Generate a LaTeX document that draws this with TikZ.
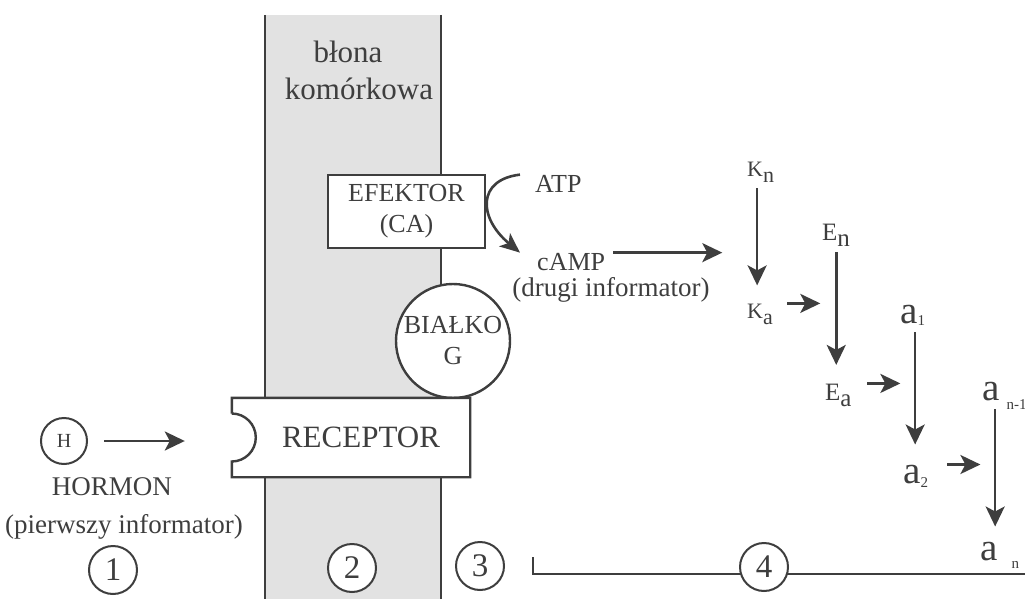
\documentclass[tikz,border=0pt]{standalone}
\usepackage{fontspec}
\setmainfont{Liberation Serif}
\usetikzlibrary{arrows.meta}

\definecolor{ink}{RGB}{62,62,62}
\definecolor{membrane}{RGB}{226,226,226}

\newcommand{\fsz}[1]{\fontsize{#1}{#1}\selectfont}
% lowered index for K and E
\newcommand{\ksub}[1]{\rlap{\raisebox{-6pt}{#1}}}
% lowered index for a: shift, drop, text
\newcommand{\asub}[3]{\rlap{\hspace{#1}\raisebox{-#2}{\fontsize{15}{15}\selectfont #3}}}

\tikzset{
  txt/.style={inner sep=0pt, text=ink},
  outl/.style={draw=ink, line width=2.4pt},
  wall/.style={draw=ink, line width=1.8pt},
  arr/.style={draw=ink, line width=2.6pt, -{Stealth[length=20pt,width=19pt,inset=5pt]}},
  cellbox/.style={draw=ink, line width=2.4pt, fill=white, text=ink, align=center, font=\fontsize{26}{31}\selectfont},
  numc/.style={circle, draw=ink, line width=2pt, fill=white, minimum size=48pt, inner sep=0pt, text=ink, font=\fsz{33}},
  casc/.style={txt, anchor=base west, font=\fsz{22}},
  acasc/.style={txt, anchor=base west, font=\fsz{39}},
}

\begin{document}
\begin{tikzpicture}[x=1pt,y=-1pt]
  \useasboundingbox (0,0) rectangle (1025,599);

  % cell membrane
  \fill[membrane] (265,15) rectangle (441,599);
  \draw[wall] (265,15) -- (265,599) (441,15) -- (441,599);
  \node[txt, font=\fsz{31}, anchor=base] (blona) at (348,63) {błona};
  \node[txt, font=\fsz{31}, anchor=base] (komorkowa) at (359,100) {komórkowa};

  % effector, G protein and receptor
  \node[cellbox, minimum width=157pt, minimum height=73pt] (efektor) at (406.5,211.5) {EFEKTOR\\(CA)};
  \node[cellbox, circle, minimum size=114pt, inner sep=0pt] (bialko) at (453,341) {BIAŁKO\\G};
  \node[txt, fill=white, minimum width=238pt, minimum height=79pt, font=\fsz{31}] (rec) at (351,437.5) {\hspace*{20pt}RECEPTOR};
  \draw[outl, line join=miter]
    ([yshift=24pt]rec.west) -- (rec.north west) -- (rec.north east)
    -- (rec.south east) -- (rec.south west) -- ([yshift=-24pt]rec.west)
    arc[start angle=-90, end angle=90, radius=24pt];

  % hormone
  \node[numc, minimum size=46pt, font=\fsz{20}] (h) at (64,441) {H};
  \node[txt, font=\fsz{27}, anchor=base] (hormon) at (112,495) {HORMON};
  \node[txt, font=\fsz{27}, anchor=base] (pierwszy) at (124,533) {(pierwszy informator)};
  \draw[arr, shorten <=16pt, shorten >=47pt] (h.east) -- (h.east -| rec.west);

  % second messenger
  \node[txt, font=\fsz{26}, anchor=base west] (atp) at (535,192) {ATP};
  \node[txt, font=\fsz{26}, anchor=base west] (camp) at (537,270) {cAMP};
  \node[txt, font=\fsz{27}, anchor=base] (drugi) at (611,296) {(drugi informator)};
  \draw[arr, -{Stealth[length=20pt,width=17pt,inset=5pt]}]
    ([xshift=-15pt]atp.north west) .. controls +(-43,5) and +(-42,-35) .. ([xshift=-17pt]camp.north west);
  \draw[arr] ([xshift=8pt]camp.north east) -- ++(109,0);

  % kinase cascade
  \node[casc] (kn) at (747,176) {K\ksub{n}};
  \node[casc] (ka) at (747,318) {K\ksub{a}};
  \node[casc, font=\fsz{25}] (en) at (822,240) {E\ksub{n}};
  \node[casc, font=\fsz{25}] (ea) at (825,400) {E\ksub{a}};
  \node[acasc] (a1) at (900,323) {a\asub{0pt}{2pt}{1}};
  \node[acasc] (a2) at (903,483) {a\asub{0pt}{4pt}{2}};
  \node[acasc] (anm) at (982,400) {a\asub{7pt}{9pt}{n-1}};
  \node[acasc] (an) at (980,560) {a\asub{14pt}{8pt}{n}};

  \draw[arr, shorten <=6pt, shorten >=18pt] ([xshift=2pt]kn.south) -- ([xshift=2pt]ka.north);
  \draw[arr, shorten <=6pt, shorten >=18.5pt] ([xshift=6.4pt]en.south) -- ([xshift=3.4pt]ea.north);
  \draw[arr, shorten <=7pt, shorten >=20pt] ([xshift=6.3pt]a1.south) -- ([xshift=3.3pt]a2.north);
  \draw[arr, shorten >=15pt] ([xshift=4.3pt]anm.south) -- ([xshift=6.3pt]an.north);

  \draw[arr] ([xshift=24pt]ka.north east) -- ++(33,0);
  \draw[arr] ([xshift=26.7pt]ea.north east) -- ++(33,0);
  \draw[arr] ([xshift=26.7pt]a2.north east) -- ++(33,0);

  % stages
  \coordinate (brk) at (533,557);
  \coordinate (brkend) at (1025,574);
  \draw[outl, line width=2.2pt] (brk) |- (brkend);
  \node[numc] (n1) at (113,570) {1};
  \node[numc] (n2) at (352,568) {2};
  \node[numc] (n3) at (480,566) {3};
  \node[numc] (n4) at (764,567) {4};
\end{tikzpicture}
\end{document}
